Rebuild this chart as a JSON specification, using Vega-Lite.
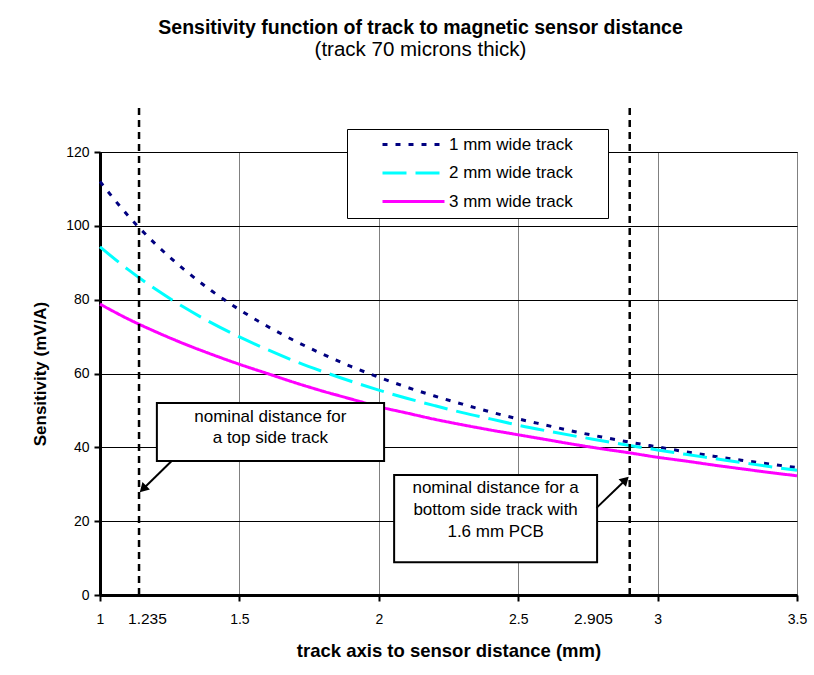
{
  "$schema": "https://vega.github.io/schema/vega-lite/v6.json",
  "width": 697,
  "height": 443,
  "autosize": {"type": "none"},
  "padding": {"left": 100, "top": 152, "right": 17, "bottom": 80},
  "background": "white",
  "config": {
    "font": "Liberation Sans",
    "view": {"stroke": "black", "strokeWidth": 1},
    "axis": {"labelFont": "Liberation Sans", "titleFont": "Liberation Sans", "labelColor": "black", "titleColor": "black"}
  },
  "title": {
    "text": "Sensitivity function of track to magnetic sensor distance",
    "subtitle": "(track 70 microns thick)",
    "anchor": "middle",
    "dx": -28,
    "offset": 43,
    "font": "Liberation Sans",
    "fontSize": 19.5,
    "fontWeight": "bold",
    "color": "black",
    "subtitleFont": "Liberation Sans",
    "subtitleFontSize": 20.5,
    "subtitleColor": "black",
    "subtitlePadding": 2
  },
  "datasets": {
    "curves": [
      {"d": 1.0, "s": 112.0, "track": "1 mm wide track"},
      {"d": 1.1, "s": 102.8, "track": "1 mm wide track"},
      {"d": 1.2, "s": 95.0, "track": "1 mm wide track"},
      {"d": 1.3, "s": 88.3, "track": "1 mm wide track"},
      {"d": 1.4, "s": 82.4, "track": "1 mm wide track"},
      {"d": 1.5, "s": 77.3, "track": "1 mm wide track"},
      {"d": 1.6, "s": 72.8, "track": "1 mm wide track"},
      {"d": 1.7, "s": 68.8, "track": "1 mm wide track"},
      {"d": 1.8, "s": 65.2, "track": "1 mm wide track"},
      {"d": 1.9, "s": 61.9, "track": "1 mm wide track"},
      {"d": 2.0, "s": 59.0, "track": "1 mm wide track"},
      {"d": 2.1, "s": 56.3, "track": "1 mm wide track"},
      {"d": 2.2, "s": 53.9, "track": "1 mm wide track"},
      {"d": 2.3, "s": 51.7, "track": "1 mm wide track"},
      {"d": 2.4, "s": 49.6, "track": "1 mm wide track"},
      {"d": 2.5, "s": 47.7, "track": "1 mm wide track"},
      {"d": 2.6, "s": 46.0, "track": "1 mm wide track"},
      {"d": 2.7, "s": 44.3, "track": "1 mm wide track"},
      {"d": 2.8, "s": 42.8, "track": "1 mm wide track"},
      {"d": 2.9, "s": 41.4, "track": "1 mm wide track"},
      {"d": 3.0, "s": 40.1, "track": "1 mm wide track"},
      {"d": 3.1, "s": 38.8, "track": "1 mm wide track"},
      {"d": 3.2, "s": 37.6, "track": "1 mm wide track"},
      {"d": 3.3, "s": 36.5, "track": "1 mm wide track"},
      {"d": 3.4, "s": 35.5, "track": "1 mm wide track"},
      {"d": 3.5, "s": 34.5, "track": "1 mm wide track"},
      {"d": 1.0, "s": 94.3, "track": "2 mm wide track"},
      {"d": 1.1, "s": 88.2, "track": "2 mm wide track"},
      {"d": 1.2, "s": 82.8, "track": "2 mm wide track"},
      {"d": 1.3, "s": 78.0, "track": "2 mm wide track"},
      {"d": 1.4, "s": 73.7, "track": "2 mm wide track"},
      {"d": 1.5, "s": 69.9, "track": "2 mm wide track"},
      {"d": 1.6, "s": 66.5, "track": "2 mm wide track"},
      {"d": 1.7, "s": 63.3, "track": "2 mm wide track"},
      {"d": 1.8, "s": 60.5, "track": "2 mm wide track"},
      {"d": 1.9, "s": 57.9, "track": "2 mm wide track"},
      {"d": 2.0, "s": 55.5, "track": "2 mm wide track"},
      {"d": 2.1, "s": 53.3, "track": "2 mm wide track"},
      {"d": 2.2, "s": 51.3, "track": "2 mm wide track"},
      {"d": 2.3, "s": 49.4, "track": "2 mm wide track"},
      {"d": 2.4, "s": 47.7, "track": "2 mm wide track"},
      {"d": 2.5, "s": 46.0, "track": "2 mm wide track"},
      {"d": 2.6, "s": 44.5, "track": "2 mm wide track"},
      {"d": 2.7, "s": 43.1, "track": "2 mm wide track"},
      {"d": 2.8, "s": 41.8, "track": "2 mm wide track"},
      {"d": 2.9, "s": 40.5, "track": "2 mm wide track"},
      {"d": 3.0, "s": 39.3, "track": "2 mm wide track"},
      {"d": 3.1, "s": 38.1, "track": "2 mm wide track"},
      {"d": 3.2, "s": 37.0, "track": "2 mm wide track"},
      {"d": 3.3, "s": 35.9, "track": "2 mm wide track"},
      {"d": 3.4, "s": 34.8, "track": "2 mm wide track"},
      {"d": 3.5, "s": 33.8, "track": "2 mm wide track"},
      {"d": 1.0, "s": 78.8, "track": "3 mm wide track"},
      {"d": 1.1, "s": 74.8, "track": "3 mm wide track"},
      {"d": 1.2, "s": 71.3, "track": "3 mm wide track"},
      {"d": 1.3, "s": 68.1, "track": "3 mm wide track"},
      {"d": 1.4, "s": 65.2, "track": "3 mm wide track"},
      {"d": 1.5, "s": 62.5, "track": "3 mm wide track"},
      {"d": 1.6, "s": 60.0, "track": "3 mm wide track"},
      {"d": 1.7, "s": 57.5, "track": "3 mm wide track"},
      {"d": 1.8, "s": 55.2, "track": "3 mm wide track"},
      {"d": 1.9, "s": 53.1, "track": "3 mm wide track"},
      {"d": 2.0, "s": 51.0, "track": "3 mm wide track"},
      {"d": 2.1, "s": 49.3, "track": "3 mm wide track"},
      {"d": 2.2, "s": 47.6, "track": "3 mm wide track"},
      {"d": 2.3, "s": 46.1, "track": "3 mm wide track"},
      {"d": 2.4, "s": 44.7, "track": "3 mm wide track"},
      {"d": 2.5, "s": 43.4, "track": "3 mm wide track"},
      {"d": 2.6, "s": 42.1, "track": "3 mm wide track"},
      {"d": 2.7, "s": 40.8, "track": "3 mm wide track"},
      {"d": 2.8, "s": 39.6, "track": "3 mm wide track"},
      {"d": 2.9, "s": 38.5, "track": "3 mm wide track"},
      {"d": 3.0, "s": 37.3, "track": "3 mm wide track"},
      {"d": 3.1, "s": 36.3, "track": "3 mm wide track"},
      {"d": 3.2, "s": 35.2, "track": "3 mm wide track"},
      {"d": 3.3, "s": 34.2, "track": "3 mm wide track"},
      {"d": 3.4, "s": 33.2, "track": "3 mm wide track"},
      {"d": 3.5, "s": 32.3, "track": "3 mm wide track"}
    ],
    "markers": [
      {"d": 1.14, "lo": 0, "hi": 132.5, "label": "1.235", "ld": 1.17},
      {"d": 2.9, "lo": 0, "hi": 132.5, "label": "2.905", "ld": 2.77}
    ],
    "boxes": [
      {"x1": 1.204, "x2": 2.019, "y1": 52.0, "y2": 36.3},
      {"x1": 2.055, "x2": 2.783, "y1": 32.5, "y2": 8.9}
    ],
    "notes": [
      {"x": 1.611, "y": 48.2, "t": "nominal distance for"},
      {"x": 1.611, "y": 42.5, "t": "a top side track"},
      {"x": 2.419, "y": 29.0, "t": "nominal distance for a"},
      {"x": 2.419, "y": 23.0, "t": "bottom side track with"},
      {"x": 2.419, "y": 17.1, "t": "1.6 mm PCB"}
    ],
    "arrows": [
      {"x1": 1.257, "y1": 36.3, "x2": 1.158, "y2": 29.0, "ang": 225},
      {"x1": 2.781, "y1": 23.6, "x2": 2.881, "y2": 30.9, "ang": 45}
    ]
  },
  "layer": [
    {
      "data": {"name": "curves"},
      "mark": {"type": "line", "strokeWidth": 3, "interpolate": "monotone", "clip": false},
      "encoding": {
        "x": {
          "field": "d", "type": "quantitative",
          "scale": {"domain": [1, 3.5], "nice": false, "zero": false},
          "axis": {
            "values": [1, 1.5, 2, 2.5, 3, 3.5],
            "format": "~g",
            "title": "track axis to sensor distance (mm)",
            "titleFontSize": 18.5, "titleFontWeight": "bold", "titlePadding": 15,
            "labelFontSize": 14, "labelPadding": 11, "labelFlush": false,
            "domainColor": "black", "domainWidth": 3,
            "tickColor": "black", "tickWidth": 2, "tickSize": 6,
            "grid": true, "gridColor": "#808080", "gridWidth": 1, "gridOpacity": 1
          }
        },
        "y": {
          "field": "s", "type": "quantitative",
          "scale": {"domain": [0, 120], "nice": false},
          "axis": {
            "values": [0, 20, 40, 60, 80, 100, 120],
            "title": "Sensitivity (mV/A)",
            "titleFontSize": 17, "titleFontWeight": "bold", "titlePadding": 16,
            "labelFontSize": 14, "labelPadding": 5,
            "domainColor": "black", "domainWidth": 3,
            "tickColor": "black", "tickWidth": 2, "tickSize": 6,
            "grid": true, "gridColor": "black", "gridWidth": 1, "gridOpacity": 1
          }
        },
        "color": {
          "field": "track", "type": "nominal",
          "scale": {"domain": ["1 mm wide track", "2 mm wide track", "3 mm wide track"], "range": ["#000080", "#00FFFF", "#FF00FF"]},
          "legend": {
            "orient": "none", "legendX": 247, "legendY": -23,
            "title": "xx", "titleOrient": "right", "titleColor": "white", "titleFontSize": 17, "titlePadding": 8,
            "symbolType": "stroke", "symbolSize": 3844, "symbolStrokeWidth": 3,
            "labelFontSize": 17, "labelFont": "Liberation Sans", "labelColor": "black",
            "clipHeight": 15, "symbolOffset": 26, "labelOffset": 3,
            "padding": 8, "rowPadding": 10.5,
            "strokeColor": "black", "fillColor": "white"
          }
        },
        "strokeDash": {
          "field": "track", "type": "nominal",
          "scale": {"domain": ["1 mm wide track", "2 mm wide track", "3 mm wide track"], "range": [[5, 8], [24, 9], [1, 0]]},
          "legend": null
        }
      }
    },
    {
      "data": {"name": "markers"},
      "mark": {"type": "rule", "color": "black", "strokeWidth": 2.5, "strokeDash": [7, 5], "clip": false},
      "encoding": {
        "x": {"field": "d", "type": "quantitative"},
        "y": {"field": "lo", "type": "quantitative"},
        "y2": {"field": "hi"}
      }
    },
    {
      "data": {"name": "markers"},
      "mark": {"type": "text", "fontSize": 15.5, "color": "black", "baseline": "middle", "align": "center"},
      "encoding": {
        "x": {"field": "ld", "type": "quantitative"},
        "y": {"datum": -6.6, "type": "quantitative"},
        "text": {"field": "label"}
      }
    },
    {
      "data": {"name": "boxes"},
      "mark": {"type": "rect", "fill": "white", "stroke": "black", "strokeWidth": 2},
      "encoding": {
        "x": {"field": "x1", "type": "quantitative"},
        "x2": {"field": "x2"},
        "y": {"field": "y1", "type": "quantitative"},
        "y2": {"field": "y2"}
      }
    },
    {
      "data": {"name": "notes"},
      "mark": {"type": "text", "fontSize": 17, "color": "black", "baseline": "middle", "align": "center"},
      "encoding": {
        "x": {"field": "x", "type": "quantitative"},
        "y": {"field": "y", "type": "quantitative"},
        "text": {"field": "t"}
      }
    },
    {
      "data": {"name": "arrows"},
      "mark": {"type": "rule", "color": "black", "strokeWidth": 2},
      "encoding": {
        "x": {"field": "x1", "type": "quantitative"},
        "y": {"field": "y1", "type": "quantitative"},
        "x2": {"field": "x2"},
        "y2": {"field": "y2"}
      }
    },
    {
      "data": {"name": "arrows"},
      "mark": {"type": "point", "shape": "triangle", "filled": true, "color": "black", "size": 110, "opacity": 1},
      "encoding": {
        "x": {"field": "x2", "type": "quantitative"},
        "y": {"field": "y2", "type": "quantitative"},
        "angle": {"field": "ang", "type": "quantitative", "scale": null}
      }
    }
  ]
}
